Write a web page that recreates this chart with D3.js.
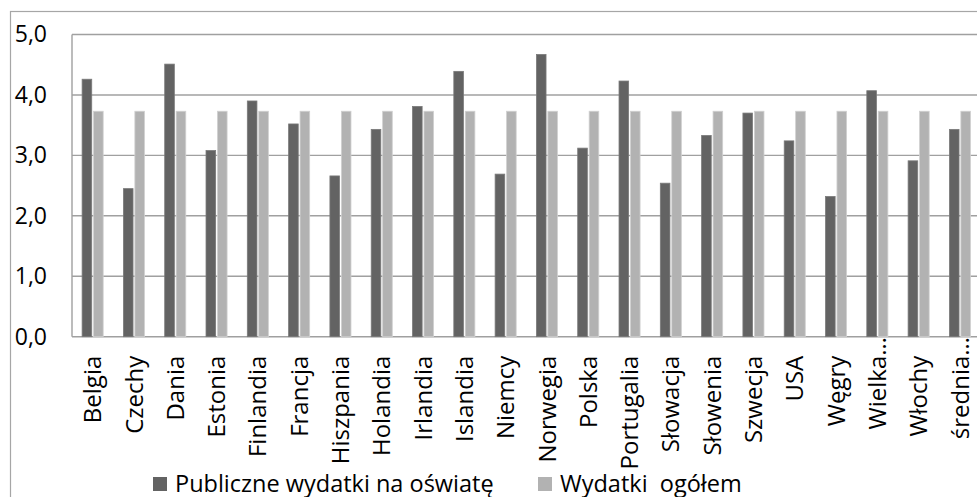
<!DOCTYPE html>
<html>
<head>
<meta charset="utf-8">
<script src="https://cdn.jsdelivr.net/npm/d3@7"></script>
<style>
  body { margin: 0; background: #fff; }
  svg { display: block; font-family: "Open Sans", sans-serif; }
</style>
</head>
<body>
<svg id="chart"></svg>
<script>
var categories = ["Belgia", "Czechy", "Dania", "Estonia", "Finlandia", "Francja", "Hiszpania", "Holandia",
  "Irlandia", "Islandia", "Niemcy", "Norwegia", "Polska", "Portugalia", "Słowacja", "Słowenia",
  "Szwecja", "USA", "Węgry", "Wielka…", "Włochy", "średnia…"];
var seriesNames = ["Publiczne wydatki na oświatę", "Wydatki  ogółem"];
var publiczne = [4.26, 2.45, 4.51, 3.08, 3.90, 3.52, 2.66, 3.43, 3.81, 4.39, 2.69, 4.67,
  3.12, 4.23, 2.54, 3.33, 3.70, 3.24, 2.32, 4.07, 2.91, 3.43];
var ogolem = [3.73, 3.73, 3.73, 3.73, 3.73, 3.73, 3.73, 3.73, 3.73, 3.73, 3.73, 3.73,
  3.73, 3.73, 3.73, 3.73, 3.73, 3.73, 3.73, 3.73, 3.73, 3.73];
var yTicks = [0, 1, 2, 3, 4, 5];
var colors = ["#636363", "#b2b2b2"];

var width = 977, height = 497;
var plot = { left: 72, top: 34.5, bottom: 336.7, right: 980.6 };

var svg = d3.select("#chart")
  .attr("width", width)
  .attr("height", height);

// outer chart frame (runs off the right/bottom of the picture)
svg.append("rect")
  .attr("x", 10.5).attr("y", 11.5)
  .attr("width", 1000).attr("height", 520)
  .attr("fill", "none")
  .attr("stroke", "#a6a6a6")
  .attr("stroke-width", 1.2);

var x0 = d3.scaleBand()
  .domain(categories)
  .range([plot.left, plot.right])
  .paddingInner(0.49)
  .paddingOuter(0.245);

var x1 = d3.scaleBand()
  .domain(seriesNames)
  .range([0, x0.bandwidth()])
  .paddingInner(0.16);

var y = d3.scaleLinear()
  .domain([0, 5])
  .range([plot.bottom, plot.top]);

// gridlines
svg.append("g")
  .selectAll("line")
  .data(yTicks)
  .enter().append("line")
    .attr("x1", plot.left)
    .attr("x2", plot.right)
    .attr("y1", d => y(d))
    .attr("y2", d => y(d))
    .attr("stroke", "#a0a0a0")
    .attr("stroke-width", 1.4);

// left axis line
svg.append("line")
  .attr("x1", plot.left).attr("x2", plot.left)
  .attr("y1", plot.top).attr("y2", plot.bottom)
  .attr("stroke", "#a0a0a0")
  .attr("stroke-width", 1.4);

// y axis labels
var yAxis = svg.append("g")
  .attr("transform", `translate(${plot.left}, 0)`)
  .call(d3.axisLeft(y)
    .tickValues(yTicks)
    .tickSize(0)
    .tickPadding(25)
    .tickFormat(d => d3.format(".1f")(d).replace(".", ",")));
yAxis.select(".domain").remove();
yAxis.selectAll("text")
  .attr("font-family", "Open Sans")
  .attr("font-size", 23)
  .attr("fill", "#000");

// bars
var rows = categories.map((c, i) => ({ cat: c, vals: [publiczne[i], ogolem[i]] }));

var groups = svg.append("g")
  .selectAll("g")
  .data(rows)
  .enter().append("g")
    .attr("transform", d => `translate(${x0(d.cat)}, 0)`);

groups.selectAll("rect")
  .data(d => d.vals.map((v, j) => ({ name: seriesNames[j], v: v, j: j })))
  .enter().append("rect")
    .attr("x", d => x1(d.name))
    .attr("width", x1.bandwidth())
    .attr("y", d => y(d.v))
    .attr("height", d => y(0) - y(d.v))
    .attr("fill", d => colors[d.j])
    .attr("stroke", d => d.j === 0 ? "#7a7a7a" : "#d0d0d0")
    .attr("stroke-width", 0.8);

// x axis labels (rotated)
var xAxis = svg.append("g")
  .attr("transform", `translate(0, ${plot.bottom})`)
  .call(d3.axisBottom(x0).tickSize(0).tickFormat(d => d.replace("…", "")));
xAxis.select(".domain").remove();
xAxis.selectAll("text")
  .attr("font-family", "Open Sans")
  .attr("font-size", 24)
  .attr("fill", "#000")
  .attr("text-anchor", "end")
  .attr("transform", "rotate(-90)")
  .attr("x", -19)
  .attr("y", 0)
  .attr("dy", "0.36em");
xAxis.selectAll(".tick")
  .filter(d => d.indexOf("…") >= 0)
  .append("text")
    .attr("font-family", "Open Sans")
    .attr("font-size", 24)
    .attr("fill", "#000")
    .attr("text-anchor", "start")
    .attr("transform", "rotate(-90)")
    .attr("x", -19)
    .attr("y", 0)
    .attr("dy", "0.36em")
    .text("…");

// legend
var legendX = [153, 538];
var legend = svg.append("g")
  .selectAll("g")
  .data(seriesNames)
  .enter().append("g")
    .attr("transform", (d, i) => `translate(${legendX[i]}, 477)`);

legend.append("rect")
  .attr("width", 14)
  .attr("height", 14)
  .attr("fill", (d, i) => colors[i]);

legend.append("text")
  .attr("x", 22)
  .attr("y", 14.5)
  .attr("font-family", "Open Sans")
  .attr("font-size", 23.5)
  .attr("fill", "#000")
  .style("white-space", "pre")
  .text(d => d);
</script>
</body>
</html>
